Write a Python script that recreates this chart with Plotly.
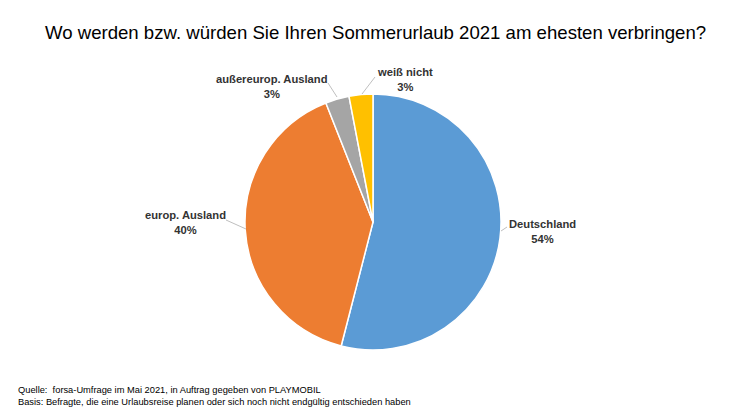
import plotly.graph_objects as go

# Werte aus dem Bild
categories = ["Deutschland", "europ. Ausland", "außereurop. Ausland", "weiß nicht"]
values = [54, 40, 3, 3]
colors = ["#5B9BD5", "#ED7D31", "#A5A5A5", "#FFC000"]
title_text = "Wo werden bzw. würden Sie Ihren Sommerurlaub 2021 am ehesten verbringen?"
source_text = ("Quelle:  forsa-Umfrage im Mai 2021, in Auftrag gegeben von PLAYMOBIL<br>"
               "Basis: Befragte, die eine Urlaubsreise planen oder sich noch nicht endgültig entschieden haben")

W, H = 746, 420
OFF = 8  # Seitenrand des Browsers
cx, cy, r = 373, 222, 128


def px(x):
    return (x - OFF) / W


def py(y):
    return 1 - (y - OFF) / H


fig = go.Figure(go.Pie(
    labels=categories,
    values=values,
    sort=False,
    direction="clockwise",
    rotation=0,
    marker=dict(colors=colors, line=dict(color="white", width=1.5)),
    textinfo="none",
    hoverinfo="label+percent",
    showlegend=False,
    domain=dict(x=[px(cx - r), px(cx + r)], y=[py(cy + r), py(cy - r)]),
))

# Beschriftungen
lab_font = dict(family="Liberation Sans", size=11.2, color="#333333")
label_pos = [(542, 231), (185, 223), (272, 86), (405, 79)]
for (lx, ly), cat, val in zip(label_pos, categories, values):
    fig.add_annotation(x=px(lx), y=py(ly), text=f"<b>{cat}<br>{val}%</b>", showarrow=False,
                       xref="paper", yref="paper", xanchor="center", yanchor="middle",
                       font=lab_font, align="center")

# Führungslinien
leaders = [(501, 231, 507, 227), (226, 220, 246, 229), (328, 83, 337, 97), (375, 77, 362, 94)]
for x0, y0, x1, y1 in leaders:
    fig.add_shape(type="line", xref="paper", yref="paper", x0=px(x0), y0=py(y0), x1=px(x1), y1=py(y1),
                  line=dict(color="#BFBFBF", width=1))

fig.add_annotation(x=px(375), y=py(32), text=title_text, showarrow=False, xref="paper", yref="paper",
                   xanchor="center", yanchor="middle",
                   font=dict(family="Liberation Sans", size=18.6, color="black"))
fig.add_annotation(x=px(16), y=py(396), text=source_text, showarrow=False, xref="paper", yref="paper",
                   xanchor="left", yanchor="middle", align="left",
                   font=dict(family="Liberation Sans", size=9.3, color="black"))

fig.update_layout(width=W, height=H, margin=dict(l=0, r=0, t=0, b=0),
                  paper_bgcolor="white", plot_bgcolor="white")
fig.write_html("out.html")
